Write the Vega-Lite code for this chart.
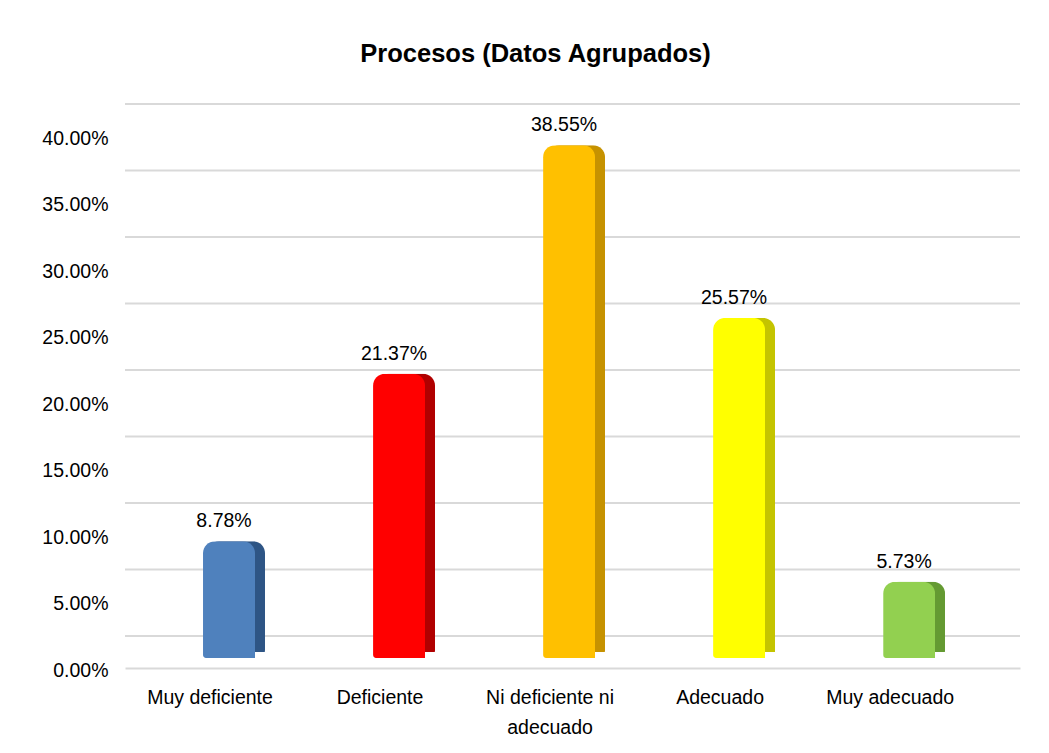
{
  "$schema": "https://vega.github.io/schema/vega-lite/v6.json",
  "width": 895,
  "height": 532,
  "autosize": {"type": "none"},
  "padding": {"left": 125, "top": 126, "right": 29, "bottom": 95},
  "background": "white",
  "title": {
    "text": "Procesos (Datos Agrupados)",
    "font": "Liberation Sans",
    "fontSize": 25.5,
    "fontWeight": "bold",
    "color": "#000000",
    "anchor": "middle",
    "dx": -37,
    "offset": 36
  },
  "config": {
    "view": {"stroke": null},
    "font": "Liberation Sans"
  },
  "data": {
    "values": [
      {"categoria": "Muy deficiente", "valor": 0.0878},
      {"categoria": "Deficiente", "valor": 0.2137},
      {"categoria": "Ni deficiente ni adecuado", "valor": 0.3855},
      {"categoria": "Adecuado", "valor": 0.2557},
      {"categoria": "Muy adecuado", "valor": 0.0573}
    ]
  },
  "encoding": {
    "x": {
      "field": "categoria",
      "type": "nominal",
      "sort": null,
      "scale": {"paddingInner": 0, "paddingOuter": 0.132, "align": 0},
      "axis": {
        "title": null,
        "labelAngle": 0,
        "labelFontSize": 19.5,
        "labelColor": "#000000",
        "labelFont": "Liberation Sans",
        "labelPadding": 20,
        "labelLineHeight": 30,
        "labelExpr": "datum.label == 'Ni deficiente ni adecuado' ? ['Ni deficiente ni', 'adecuado'] : datum.label",
        "ticks": false,
        "domainColor": "#d9d9d9",
        "domainWidth": 2,
        "offset": 10,
        "grid": false
      }
    }
  },
  "layer": [
    {
      "data": {"values": [{"v": 0}, {"v": 0.05}, {"v": 0.1}, {"v": 0.15}, {"v": 0.2}, {"v": 0.25}, {"v": 0.3}, {"v": 0.35}, {"v": 0.4}]},
      "mark": {"type": "rule", "color": "#d9d9d9", "strokeWidth": 2, "yOffset": -22},
      "encoding": {
        "x": null,
        "y": {"field": "v", "type": "quantitative", "scale": {"domain": [0, 0.4]}}
      }
    },
    {
      "mark": {"type": "bar", "width": 58, "xOffset": 26, "yOffset": -6, "cornerRadiusTopLeft": 12, "cornerRadiusTopRight": 12, "cornerRadiusBottomRight": 8},
      "encoding": {
        "y": {"field": "valor", "type": "quantitative"},
        "color": {
          "field": "categoria",
          "type": "nominal",
          "scale": {
            "domain": ["Muy deficiente", "Deficiente", "Ni deficiente ni adecuado", "Adecuado", "Muy adecuado"],
            "range": ["#2e5585", "#b00000", "#c69200", "#c4c400", "#649a32"]
          },
          "legend": null
        }
      }
    },
    {
      "mark": {"type": "bar", "width": 52, "xOffset": 19, "cornerRadiusTopLeft": 12, "cornerRadiusTopRight": 12, "cornerRadiusBottomLeft": 3},
      "encoding": {
        "y": {
          "field": "valor",
          "type": "quantitative",
          "scale": {"domain": [0, 0.4]},
          "axis": {
            "title": null,
            "format": ".2%",
            "values": [0, 0.05, 0.1, 0.15, 0.2, 0.25, 0.3, 0.35, 0.4],
            "labelFontSize": 19.5,
            "labelColor": "#000000",
            "labelFont": "Liberation Sans",
            "labelOffset": 12,
            "labelPadding": 17,
            "ticks": false,
            "domain": false,
            "grid": false
          }
        },
        "color": {
          "field": "categoria",
          "type": "nominal",
          "scale": {
            "domain": ["Muy deficiente", "Deficiente", "Ni deficiente ni adecuado", "Adecuado", "Muy adecuado"],
            "range": ["#4f81bd", "#ff0000", "#ffc000", "#ffff00", "#92d050"]
          },
          "legend": null
        }
      }
    },
    {
      "mark": {"type": "text", "fontSize": 19.5, "color": "#000000", "dy": -14, "xOffset": 14, "yOffset": -6},
      "encoding": {
        "y": {"field": "valor", "type": "quantitative"},
        "text": {"field": "valor", "type": "quantitative", "format": ".2%"}
      }
    }
  ],
  "resolve": {"scale": {"color": "independent"}}
}
